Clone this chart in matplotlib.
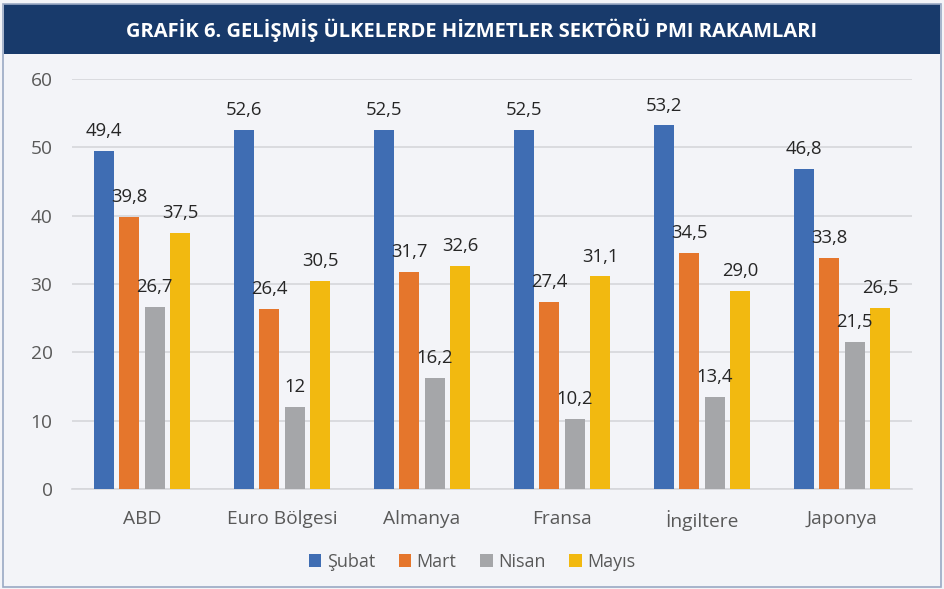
import matplotlib.pyplot as plt
import numpy as np
from matplotlib.patches import Rectangle

categories = ["ABD", "Euro Bölgesi", "Almanya", "Fransa", "İngiltere", "Japonya"]
series_names = ["Şubat", "Mart", "Nisan", "Mayıs"]
subat = [49.4, 52.6, 52.5, 52.5, 53.2, 46.8]
mart = [39.8, 26.4, 31.7, 27.4, 34.5, 33.8]
nisan = [26.7, 12, 16.2, 10.2, 13.4, 21.5]
mayis = [37.5, 30.5, 32.6, 31.1, 29.0, 26.5]
labels = [
    ["49,4", "52,6", "52,5", "52,5", "53,2", "46,8"],
    ["39,8", "26,4", "31,7", "27,4", "34,5", "33,8"],
    ["26,7", "12", "16,2", "10,2", "13,4", "21,5"],
    ["37,5", "30,5", "32,6", "31,1", "29,0", "26,5"],
]
colors = ["#3f6db3", "#e5762c", "#a5a6a9", "#f2b910"]

plt.rcParams['font.family'] = ['Open Sans', 'DejaVu Sans']

bg = "#f3f4f8"
fig = plt.figure(figsize=(9.44, 5.89), dpi=100, facecolor=bg)

# title banner
fig.patches.append(Rectangle((0.004, 0.908), 0.992, 0.086, transform=fig.transFigure,
                             facecolor="#183a6b", edgecolor="none"))
fig.text(0.5, 0.949, "GRAFİK 6. GELİŞMİŞ ÜLKELERDE HİZMETLER SEKTÖRÜ PMI RAKAMLARI",
         ha="center", va="center", color="white", fontsize=14.5, fontweight="bold")
# outer border
fig.patches.append(Rectangle((0.003, 0.003), 0.994, 0.99, transform=fig.transFigure,
                             facecolor="none", edgecolor="#9aa9c4", linewidth=1.2))

ax = fig.add_axes([72 / 944, 1 - 489 / 589, 840 / 944, 410 / 589])
ax.set_facecolor(bg)

x = np.arange(len(categories))
w = 0.143
step = 0.182
data = [subat, mart, nisan, mayis]
for i, (vals, name) in enumerate(zip(data, series_names)):
    pos = x + (i - 1.5) * step
    ax.bar(pos, vals, width=w, color=colors[i], label=name, zorder=3)
    for p, v, t in zip(pos, vals, labels[i]):
        ax.text(p, v + 1.6, t, ha="center", va="bottom", fontsize=13.3,
                color="#262626", zorder=6)

ax.set_xlim(-0.5, len(categories) - 0.5)
ax.set_ylim(0, 60)
ax.set_yticks(range(0, 61, 10))
ax.set_xticks(x)
ax.set_xticklabels(categories)
ax.yaxis.grid(True, color="#d6d7db", linewidth=1.2, zorder=0)
ax.tick_params(axis="both", length=0, labelsize=13.8, labelcolor="#595959")
ax.tick_params(axis="x", pad=15)
ax.tick_params(axis="y", pad=14)
for s in ["top", "right", "left"]:
    ax.spines[s].set_visible(False)
ax.spines["bottom"].set_color("#d6d7db")
ax.spines["bottom"].set_linewidth(1.2)

leg = fig.legend(loc="center", bbox_to_anchor=(0.5, 1 - 562 / 589), ncol=4, frameon=False,
                 fontsize=13, handlelength=0.7, handleheight=0.7, handletextpad=0.3,
                 columnspacing=1.3)
for t in leg.get_texts():
    t.set_color("#595959")

fig.savefig("out.png", dpi=100, facecolor=bg)
